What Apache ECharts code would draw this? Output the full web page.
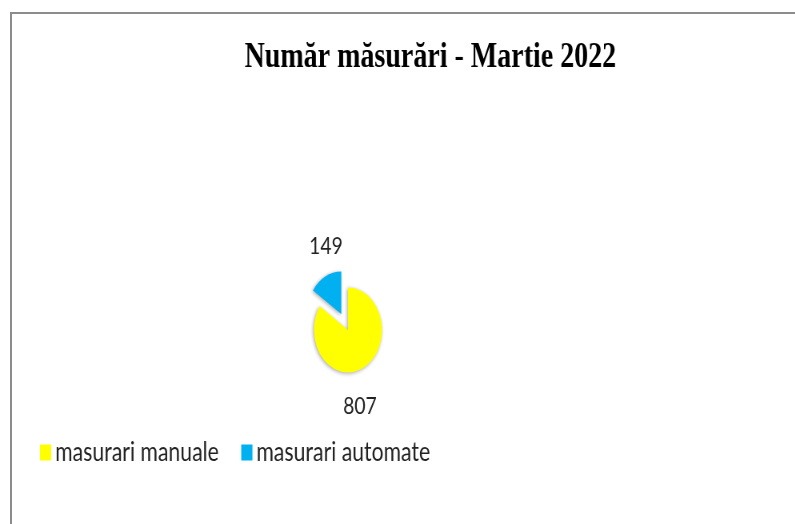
<!DOCTYPE html>
<html>
<head>
<meta charset="utf-8">
<script src="https://cdn.jsdelivr.net/npm/echarts@6/dist/echarts.min.js"></script>
<style>
  html, body { margin: 0; padding: 0; background: #fff; overflow: hidden; }
  #frame { position: absolute; left: 10px; top: 12px; width: 900px; height: 600px;
           border-left: 2px solid #8c8c8c; border-top: 2px solid #8c8c8c; }
  #chart { position: absolute; left: 0; top: 0; width: 994px; height: 524px;
           transform: scaleX(0.8); transform-origin: 0 0; }
</style>
</head>
<body>
<div id="frame"></div>
<div id="chart"></div>
<script>
// ---- data ----
const titleText = 'Număr măsurări - Martie 2022';
const categories = ['masurari manuale', 'masurari automate'];
const values = [807, 149];
const colors = ['#FFFF00', '#00B0F0'];

// ---- layout (unsqueezed coords; page is scaled by 0.8 horizontally) ----
const pieCenter = [435, 330];
const pieRadius = 42.5;
const explode = 18;
const labelPos = [[450, 406], [407.5, 246]];

const total = values.reduce((a, b) => a + b, 0);
// mid-angle of the exploded (second) slice, measured clockwise from 12 o'clock
const midAngle = 2 * Math.PI * (values[0] + values[1] / 2) / total;
const explodeDx = explode * Math.sin(midAngle);
const explodeDy = -explode * Math.cos(midAngle);

const chart = echarts.init(document.getElementById('chart'), null, { renderer: 'canvas' });
chart.setOption({
  animation: false,
  backgroundColor: 'transparent',
  title: {
    text: titleText,
    left: 533,
    textAlign: 'center',
    top: 35,
    textStyle: { fontFamily: 'Liberation Serif', fontWeight: 'bold', fontSize: 35, color: '#000' }
  },
  legend: {
    left: 45,
    top: 434,
    orient: 'horizontal',
    icon: 'rect',
    itemWidth: 14,
    itemHeight: 16,
    itemGap: 28,
    selectedMode: false,
    data: categories,
    textStyle: { fontFamily: 'Lato', fontSize: 26.5, lineHeight: 26, color: '#222' }
  },
  series: [{
    type: 'pie',
    center: pieCenter,
    radius: pieRadius,
    startAngle: 90,
    clockwise: true,
    selectedMode: 'single',
    selectedOffset: explode,
    silent: true,
    emphasis: { disabled: true },
    itemStyle: { shadowBlur: 4, shadowColor: 'rgba(0,0,0,0.35)', shadowOffsetX: -1, shadowOffsetY: 1 },
    label: {
      show: true,
      formatter: '{c}',
      fontFamily: 'Lato',
      fontSize: 24,
      color: '#222'
    },
    labelLine: { show: false },
    labelLayout: function (p) {
      const pos = labelPos[p.dataIndex];
      if (p.dataIndex === 1) {
        return {
          dx: pos[0] - (p.labelRect.x + p.labelRect.width / 2) - explodeDx,
          dy: pos[1] - (p.labelRect.y + p.labelRect.height / 2) - explodeDy
        };
      }
      return { x: pos[0], y: pos[1], align: 'center', verticalAlign: 'middle' };
    },
    data: categories.map((c, i) => ({
      name: c, value: values[i], selected: i === 1,
      itemStyle: { color: colors[i] }
    }))
  }]
});
</script>
</body>
</html>
